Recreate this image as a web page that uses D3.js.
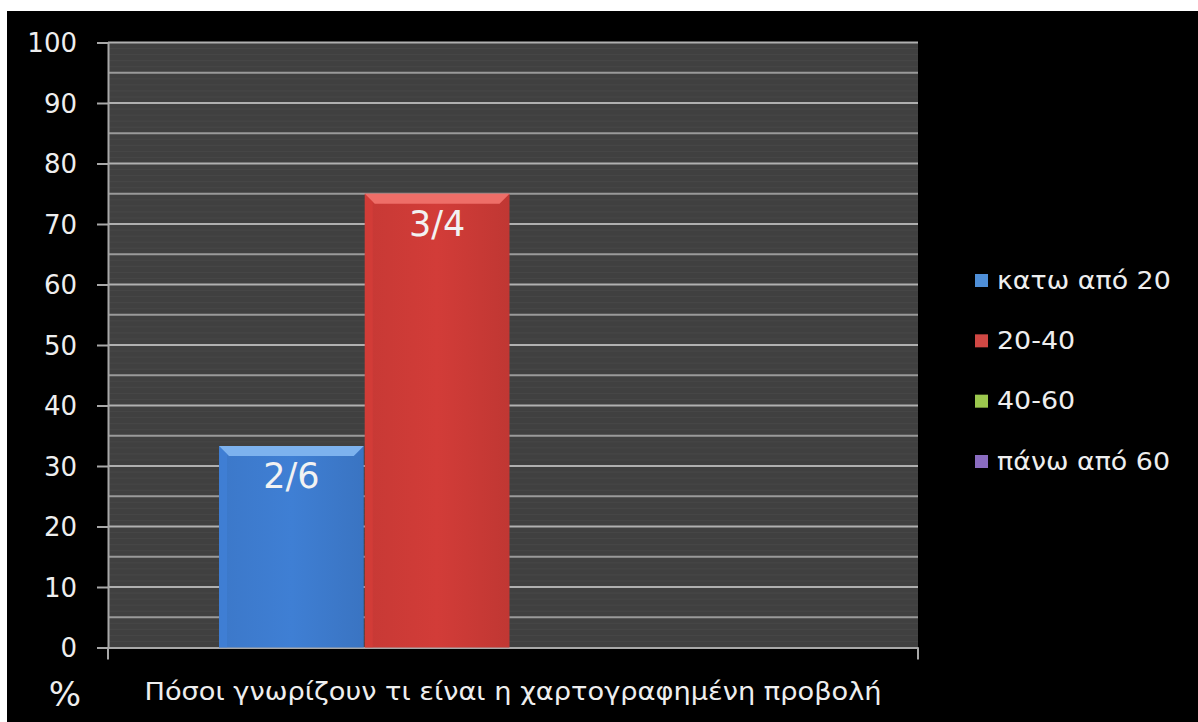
<!DOCTYPE html>
<html><head><meta charset="utf-8">
<script src="https://cdn.jsdelivr.net/npm/d3@7"></script>
<style>html,body{margin:0;padding:0;background:#fff;}svg{display:block;}</style>
</head><body>
<script>
const category = "Πόσοι γνωρίζουν τι είναι η χαρτογραφημένη προβολή";
const seriesNames = ["κατω από 20", "20-40", "40-60", "πάνω από 60"];
const seriesValues = [33.3, 75, 0, 0];
const barLabels = ["2/6", "3/4", "", ""];
const yTicks = [0,10,20,30,40,50,60,70,80,90,100];
const colors = ["#3f7fd4", "#d23c38", "#9bbb59", "#8064a2"];
const lightColors = ["#7db2ee", "#ee6e68", "#c3e07a", "#a88ad0"];
const legendColors = ["#4f8fd8", "#d04844", "#9cc84e", "#8a6cc0"];

(function () {
const W = 1198, H = 722;
const svg = d3.select("body").append("svg").attr("width", W).attr("height", H);
const font = "DejaVu Sans";

svg.append("rect").attr("width", W).attr("height", H).attr("fill", "#fff");
svg.append("rect").attr("x", 7).attr("y", 11).attr("width", W - 7).attr("height", H - 11).attr("fill", "#000");

const pL = 108, pR = 918, pT = 42.5, pB = 647.5;
const y = d3.scaleLinear().domain([0, 100]).range([pB, pT]);
const x0 = d3.scaleBand().domain([category]).range([pL, pR]).paddingInner(0).paddingOuter(0);
const x1 = d3.scaleBand().domain(seriesNames).range([x0(category) + 110, x0(category) + x0.bandwidth() - 116]).padding(0.007);

svg.append("rect").attr("x", pL).attr("y", pT).attr("width", pR - pL).attr("height", pB - pT).attr("fill", "#404040");
const faint = d3.range(1, 100).filter(d => d % 5 !== 0);
svg.append("g").selectAll("line").data(faint).join("line")
  .attr("x1", pL).attr("x2", pR).attr("y1", d => y(d)).attr("y2", d => y(d))
  .attr("stroke", "#474747").attr("stroke-width", 1);
const grid = d3.range(5, 101, 5);
svg.append("g").selectAll("line").data(grid).join("line")
  .attr("x1", pL).attr("x2", pR).attr("y1", d => y(d)).attr("y2", d => y(d))
  .attr("stroke", d => d % 10 === 0 ? "#b0b0b0" : "#9a9a9a").attr("stroke-width", 2);

const yAxis = svg.append("g").attr("transform", `translate(${pL},0)`)
  .call(d3.axisLeft(y).tickValues(yTicks).tickSize(11).tickPadding(20).tickFormat(d3.format("d")));
yAxis.select(".domain").attr("stroke", "#a8a8a8").attr("stroke-width", 2);
yAxis.selectAll(".tick line").attr("stroke", "#a8a8a8").attr("stroke-width", 2);
yAxis.selectAll(".tick text").attr("fill", "#eeeeee").attr("font-family", font).attr("font-size", 26).attr("dy", "0.36em");

const xAxis = svg.append("g").attr("transform", `translate(0,${pB})`)
  .call(d3.axisBottom(x0).tickSize(0).tickFormat(""));
xAxis.select(".domain").attr("stroke", "#a8a8a8").attr("stroke-width", 2);
svg.append("g").selectAll("line").data([pL, pR]).join("line")
  .attr("x1", d => d).attr("x2", d => d).attr("y1", pB).attr("y2", pB + 12)
  .attr("stroke", "#a8a8a8").attr("stroke-width", 2);

const defs = svg.append("defs");
seriesNames.forEach((s, i) => {
  const g = defs.append("linearGradient").attr("id", "g" + i).attr("x1", 0).attr("x2", 1).attr("y1", 0).attr("y2", 0);
  g.append("stop").attr("offset", 0).attr("stop-color", d3.color(colors[i]).darker(0.15));
  g.append("stop").attr("offset", 0.5).attr("stop-color", colors[i]);
  g.append("stop").attr("offset", 1).attr("stop-color", d3.color(colors[i]).darker(0.25));
});

const data = seriesNames.map((s, i) => ({s, v: seriesValues[i], label: barLabels[i], i}));
const bars = svg.append("g").selectAll("g").data(data.filter(d => d.v > 0)).join("g");
bars.append("rect")
  .attr("x", d => x1(d.s)).attr("y", d => y(d.v))
  .attr("width", x1.bandwidth()).attr("height", d => y(0) - y(d.v))
  .attr("fill", d => `url(#g${d.i})`);
bars.append("path")
  .attr("d", d => {
    const xa = x1(d.s), xb = xa + x1.bandwidth(), t = y(d.v), b = 10;
    return `M${xa},${t}L${xb},${t}L${xb - b},${t + b}L${xa + b},${t + b}Z`;
  })
  .attr("fill", d => lightColors[d.i]);
bars.append("path")
  .attr("d", d => {
    const xa = x1(d.s), t = y(d.v), b = 8;
    return `M${xa},${t}L${xa + b},${t + b}L${xa + b},${y(0)}L${xa},${y(0)}Z`;
  })
  .attr("fill", d => d3.color(colors[d.i]).brighter(0.2)).attr("opacity", 0.4);
bars.append("text")
  .attr("x", d => x1(d.s) + x1.bandwidth() / 2).attr("y", d => y(d.v) + 42)
  .attr("text-anchor", "middle").attr("fill", "#f2f2f2")
  .attr("font-family", font).attr("font-size", 35)
  .text(d => d.label);

const cx = x0(category) + x0.bandwidth() / 2 + 0;
svg.append("text").attr("transform", `translate(${cx},700) scale(1.09,1)`)
  .attr("text-anchor", "middle").attr("fill", "#eeeeee")
  .attr("font-family", font).attr("font-size", 25).text(category);
svg.append("text").attr("x", 65).attr("y", 706).attr("text-anchor", "middle")
  .attr("fill", "#eeeeee").attr("font-family", font).attr("font-size", 34).text("%");

const legendY = d3.scalePoint().domain(seriesNames).range([280, 461]);
const lg = svg.append("g").selectAll("g").data(seriesNames).join("g")
  .attr("transform", s => `translate(975,${legendY(s)})`);
lg.append("rect").attr("x", 0).attr("y", -6).attr("width", 13).attr("height", 13)
  .attr("fill", (s, i) => legendColors[i]);
lg.append("text").attr("transform", "translate(22,0) scale(1.12,1)").attr("dy", "0.36em")
  .attr("fill", "#eeeeee").attr("font-family", font).attr("font-size", 24).text(s => s);
})();
</script>
</body></html>
